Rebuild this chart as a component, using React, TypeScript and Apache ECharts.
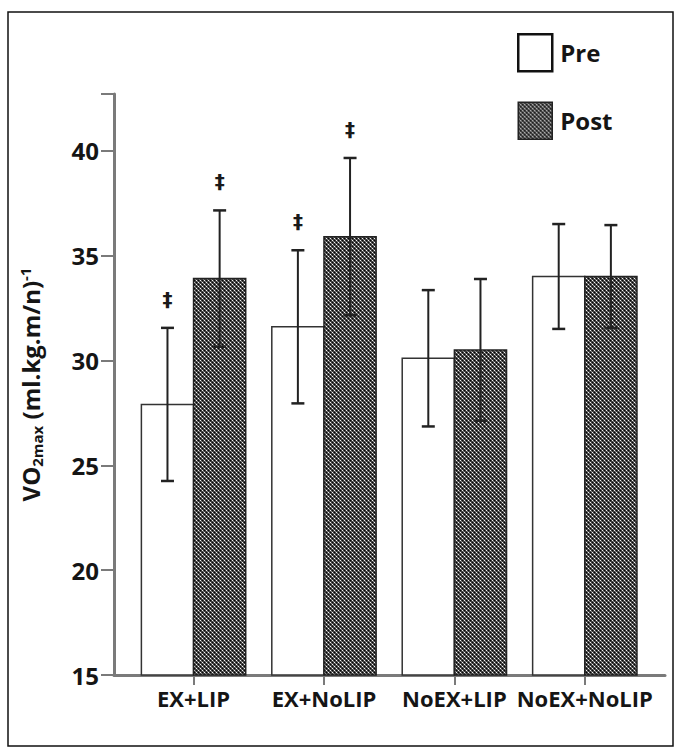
import React, { useEffect, useRef } from "react";
import * as echarts from "echarts";

const categories = ["EX+LIP", "EX+NoLIP", "NoEX+LIP", "NoEX+NoLIP"];
const preMean = [27.9, 31.6, 30.1, 34.0];
const preSD = [3.65, 3.65, 3.25, 2.5];
const postMean = [33.9, 35.9, 30.5, 34.0];
const postSD = [3.25, 3.75, 3.38, 2.45];
const preMarks = ["‡", "‡", "", ""];
const postMarks = ["‡", "‡", "", ""];
const yTicks = [15, 20, 25, 30, 35, 40];

const FONT = "'Open Sans', 'Noto Sans', sans-serif";
const INK = "#151515";
const AXIS = "#7a7a7a";

function makePattern(): HTMLCanvasElement {
  const c = document.createElement("canvas");
  c.width = 4;
  c.height = 4;
  const ctx = c.getContext("2d")!;
  ctx.fillStyle = "#404040";
  ctx.fillRect(0, 0, 4, 4);
  ctx.fillStyle = "#f4f4f4";
  ctx.fillRect(0, 0, 1, 1);
  ctx.fillRect(2, 2, 1, 1);
  ctx.fillStyle = "#050505";
  ctx.fillRect(2, 0, 1, 1);
  ctx.fillRect(0, 2, 1, 1);
  ctx.fillStyle = "#8a8a8a";
  ctx.fillRect(1, 1, 1, 1);
  ctx.fillRect(3, 3, 1, 1);
  return c;
}

export default function App() {
  const ref = useRef<HTMLDivElement>(null);
  useEffect(() => {
    if (!ref.current) return;
    const chart = echarts.init(ref.current, undefined, { renderer: "svg" });
    const patternFill: any = { image: makePattern(), repeat: "repeat", imageWidth: 4, imageHeight: 4 };
    const BAR_W = 0.4;

    const makeRender = (isPre: boolean, marks: string[]) => (params: any, api: any) => {
      const x = api.value(0);
      const v = api.value(1);
      const sd = api.value(2);
      const base = api.coord([x, 15]);
      const top = api.coord([x, v]);
      const w = api.size([BAR_W, 0])[0];
      const left = isPre ? base[0] - w : base[0];
      const cx = left + w / 2;
      const hi = api.coord([x, v + sd]);
      const lo = api.coord([x, v - sd]);
      const cap = 6.5;
      const children: any[] = [
        {
          type: "rect",
          shape: { x: left, y: top[1], width: w, height: base[1] - top[1] },
          style: isPre
            ? { fill: "#ffffff", stroke: "#333", lineWidth: 1.5 }
            : { fill: patternFill, stroke: "#222", lineWidth: 1.5 },
        },
        { type: "line", shape: { x1: cx, y1: hi[1], x2: cx, y2: lo[1] }, style: { stroke: "#222", lineWidth: 2 } },
        { type: "line", shape: { x1: cx - cap, y1: hi[1], x2: cx + cap, y2: hi[1] }, style: { stroke: "#222", lineWidth: 2.5 } },
        { type: "line", shape: { x1: cx - cap, y1: lo[1], x2: cx + cap, y2: lo[1] }, style: { stroke: "#222", lineWidth: 2.5 } },
      ];
      const m = marks[params.dataIndex];
      if (m) {
        children.push({
          type: "text",
          style: {
            text: m,
            x: cx,
            y: hi[1] - 29,
            align: "center",
            verticalAlign: "middle",
            fontSize: 20,
            fontWeight: "bold",
            fontFamily: "'DejaVu Sans', sans-serif",
            fill: "#1a1a1a",
            stroke: "transparent",
            lineWidth: 0,
          },
        });
      }
      return { type: "group", children };
    };

    const richBase = { fontFamily: FONT, fontWeight: "bold", color: INK };

    chart.setOption({
      animation: false,
      backgroundColor: "#ffffff",
      grid: { left: 114, right: 16, top: 94, bottom: 74, containLabel: false, outerBoundsMode: "none" },
      legend: {
        orient: "vertical",
        left: 517,
        top: 33,
        padding: 0,
        itemWidth: 34,
        itemHeight: 37,
        itemGap: 29,
        selectedMode: false,
        textStyle: { fontFamily: FONT, fontWeight: "bold", fontSize: 24, color: INK, padding: [0, 0, 0, 3] },
        data: [
          { name: "Pre", icon: "rect", itemStyle: { color: "#ffffff", borderColor: "#111", borderWidth: 2.5 } },
          { name: "Post", icon: "rect", itemStyle: { color: patternFill, borderColor: "#222", borderWidth: 1.5 } },
        ],
      },
      xAxis: {
        type: "value",
        min: -0.61,
        max: 3.615,
        splitLine: { show: false },
        axisLine: { show: true, onZero: false, lineStyle: { color: AXIS, width: 3 } },
        axisTick: { show: true, customValues: [0, 1, 2, 3], length: 10, lineStyle: { color: AXIS, width: 2 } },
        axisLabel: {
          customValues: [0, 1, 2, 3],
          formatter: (v: number) => categories[Math.round(v)] ?? "",
          fontFamily: FONT,
          fontWeight: "bold",
          fontSize: 22,
          color: INK,
          margin: 12,
        },
      },
      yAxis: {
        type: "value",
        min: 15,
        max: 42.7,
        interval: 5,
        splitLine: { show: false },
        axisLine: { show: true, onZero: false, lineStyle: { color: AXIS, width: 3 } },
        axisTick: { show: true, length: 13, lineStyle: { color: AXIS, width: 2 } },
        axisLabel: {
          customValues: yTicks,
          fontFamily: FONT,
          fontWeight: "bold",
          fontSize: 24,
          color: INK,
          margin: 15,
        },
        name: "{a|VO}{b|2max}{a| (ml.kg.m/n)}{c|-1}",
        nameLocation: "middle",
        nameGap: 68,
        nameRotate: 90,
        nameTextStyle: {
          rich: {
            a: { ...richBase, fontSize: 24, lineHeight: 32, verticalAlign: "middle" },
            b: { ...richBase, fontSize: 15, lineHeight: 32, verticalAlign: "bottom", padding: [0, 0, 2, 0] },
            c: { ...richBase, fontSize: 15, lineHeight: 32, verticalAlign: "top", padding: [3, 0, 0, 0] },
          },
        },
      },
      graphic: [
        {
          type: "rect",
          shape: { x: 8, y: 12, width: 665, height: 734 },
          style: { fill: "none", stroke: "#111", lineWidth: 1.5 },
          silent: true,
          z: 100,
        },
      ],
      series: [
        {
          name: "Pre",
          type: "custom",
          itemStyle: { color: "#1a1a1a" },
          data: categories.map((_, i) => [i, preMean[i], preSD[i]]),
          renderItem: makeRender(true, preMarks),
          z: 2,
        },
        {
          name: "Post",
          type: "custom",
          itemStyle: { color: "#1a1a1a" },
          data: categories.map((_, i) => [i, postMean[i], postSD[i]]),
          renderItem: makeRender(false, postMarks),
          z: 3,
        },
      ],
    });
    return () => chart.dispose();
  }, []);
  return <div ref={ref} style={{ position: "absolute", left: 0, top: 0, width: 681, height: 749 }} />;
}
